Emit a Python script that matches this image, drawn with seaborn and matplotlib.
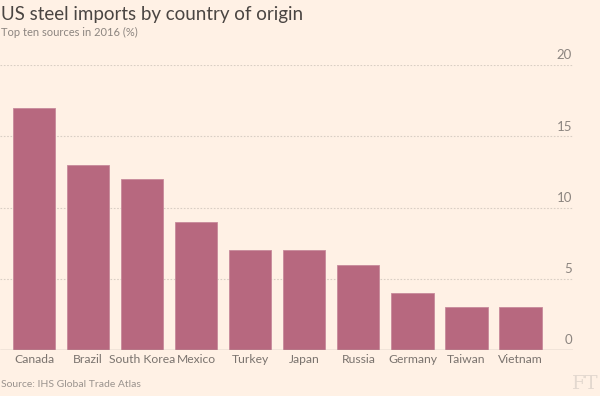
import matplotlib
matplotlib.use('Agg')
import matplotlib.pyplot as plt
import seaborn as sns
import pandas as pd

countries = ['Canada', 'Brazil', 'South Korea', 'Mexico', 'Turkey',
             'Japan', 'Russia', 'Germany', 'Taiwan', 'Vietnam']
shares = [17, 13, 12, 9, 7, 7, 6, 4, 3, 3]
yticks = [0, 5, 10, 15, 20]

BG = '#fff1e5'
BAR = '#b7687f'
GREY = '#7a736e'

sns.set_theme(style='white')
plt.rcParams['font.family'] = ['Lato', 'DejaVu Sans']

df = pd.DataFrame({'Country': countries, 'Share': shares})

fig = plt.figure(figsize=(6, 3.96), dpi=100, facecolor=BG)
ax = fig.add_axes([0.0, 0.116, 0.955, 0.72])
ax.set_facecolor(BG)

sns.barplot(data=df, x='Country', y='Share', color=BAR, width=0.78,
            saturation=1, ax=ax, zorder=3, edgecolor='#c88a9b', linewidth=0.6)

ax.set_xlim(-0.63, 9.97)
ax.set_ylim(0, 20)
for s in ax.spines.values():
    s.set_visible(False)
ax.axhline(0, color='#b8b0a9', lw=1, zorder=4)
for t in yticks[1:]:
    ax.axhline(t, color='#d9cec4', lw=0.8, ls=(0, (1.5, 1.5)), zorder=1)
for t in yticks:
    ax.text(9.95, t + 0.25, str(t), ha='right', va='bottom', fontsize=9.5, color='#8c8580')

ax.set_yticks([])
ax.tick_params(axis='x', length=0, pad=3, labelsize=8.7, labelcolor=GREY)
ax.set_xlabel('')
ax.set_ylabel('')

fig.text(0.002, 0.985, 'US steel imports by country of origin', ha='left', va='top',
         fontsize=13.5, color='#4a4542')
fig.text(0.002, 0.932, 'Top ten sources in 2016 (%)', ha='left', va='top',
         fontsize=8, color='#8c8580')
fig.text(0.002, 0.03, 'Source: IHS Global Trade Atlas', ha='left', va='center',
         fontsize=7.5, color='#9a938e')
fig.text(0.998, 0.03, 'FT', ha='right', va='center', fontsize=14,
         family='DejaVu Serif', color='#e3d8cf')

fig.savefig('out.png', dpi=100, facecolor=BG)
